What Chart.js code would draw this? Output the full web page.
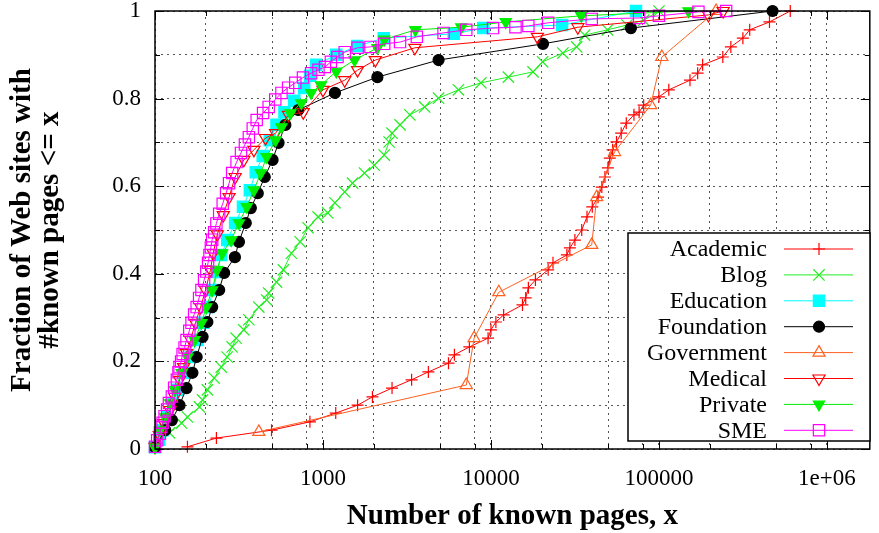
<!DOCTYPE html>
<html>
<head>
<meta charset="utf-8">
<script src="https://cdn.jsdelivr.net/npm/chart.js@4/dist/chart.umd.min.js"></script>
<style>
  html, body { margin: 0; padding: 0; background: #fff; }
  #wrap { width: 879px; height: 533px; position: relative; }
</style>
</head>
<body>
<div id="wrap"><canvas id="cdf"></canvas></div>
<script>
// ── DATA ──────────────────────────────────────────────────────
const academicX = [156,232,494,836,1191,1607,1970,2577,3370,4240,5586,6060,7440,9610,10000,10700,11900,15400,16100,16700,18400,21900,23400,28300,29500,31600,34700,37300,40100,43400,45700,47700,49700,51000,53000,55900,59600,63900,71000,76200,81100,100000,114500,153000,170000,182000,240000,268000,316000,347000,455000,605000];
const academicY = [0.005,0.025,0.043,0.062,0.082,0.1,0.119,0.139,0.158,0.176,0.196,0.215,0.233,0.253,0.272,0.29,0.306,0.329,0.345,0.368,0.386,0.409,0.425,0.443,0.459,0.477,0.5,0.53,0.553,0.575,0.598,0.621,0.642,0.664,0.683,0.701,0.721,0.744,0.763,0.769,0.785,0.804,0.82,0.842,0.858,0.877,0.895,0.918,0.938,0.957,0.975,1.0];

const blogX = [100,122,144,156,184,192,205,225,248,269,288,304,338,362,415,462,475,529,581,648,731,815,935,1068,1178,1347,1500,1766,2020,2315,2476,2577,2876,3290,4030,4877,6400,8710,12700,17800,20300,26800,32400,36100,49400,64500,81100,100000];
const blogY = [0.004,0.037,0.059,0.073,0.096,0.112,0.135,0.162,0.187,0.21,0.233,0.253,0.272,0.295,0.324,0.34,0.356,0.381,0.409,0.447,0.473,0.505,0.53,0.539,0.562,0.587,0.607,0.63,0.648,0.671,0.701,0.721,0.74,0.763,0.781,0.801,0.82,0.836,0.849,0.861,0.884,0.904,0.918,0.945,0.957,0.968,0.979,1.0];

const educationX = [100,106,111,119,128,137,150,163,179,194,208,222,235,248,269,300,334,367,398,438,482,529,590,675,773,838,910,1200,1600,2300,6000,9000,26500,73000];
const educationY = [0.004,0.021,0.043,0.073,0.105,0.135,0.174,0.21,0.249,0.288,0.324,0.363,0.404,0.443,0.477,0.516,0.553,0.591,0.632,0.669,0.705,0.74,0.769,0.795,0.824,0.852,0.877,0.9,0.92,0.938,0.948,0.961,0.968,1.0];

const foundationX = [100,115,126,140,154,167,177,192,205,219,241,258,299,316,347,372,409,450,501,544,597,713,1178,2108,4877,20400,68100,474600];
const foundationY = [0.004,0.043,0.066,0.1,0.139,0.174,0.21,0.256,0.29,0.324,0.363,0.402,0.438,0.473,0.516,0.55,0.584,0.621,0.66,0.699,0.74,0.774,0.813,0.849,0.888,0.925,0.961,1.0];

const governmentX = [415,7130,7940,11140,39800,42600,54400,89300,104000,219000];
const governmentY = [0.039,0.146,0.253,0.358,0.466,0.575,0.678,0.785,0.895,1.0];

const medicalX = [100,106,113,123,131,140,148,154,163,174,187,200,214,222,235,255,276,300,338,388,455,522,623,763,1000,1347,1607,2050,3524,18900,32900,197000,241000];
const medicalY = [0.005,0.032,0.059,0.089,0.119,0.158,0.187,0.219,0.249,0.288,0.324,0.363,0.409,0.447,0.49,0.534,0.575,0.621,0.66,0.683,0.71,0.721,0.763,0.769,0.82,0.842,0.865,0.888,0.916,0.941,0.963,0.991,1.0];

const privateX = [100,107,115,123,131,144,156,172,189,202,219,234,251,284,316,352,388,426,462,522,566,640,743,850,973,1200,1542,2108,2315,3550,6660,12250,34500,150000];
const privateY = [0.004,0.043,0.073,0.105,0.135,0.174,0.21,0.249,0.288,0.324,0.363,0.409,0.447,0.477,0.516,0.553,0.591,0.63,0.667,0.705,0.735,0.767,0.79,0.813,0.831,0.862,0.888,0.916,0.935,0.957,0.963,0.975,0.989,1.0];

const smeX = [100,103,107,109,111,114,118,121,126,130,135,138,140,143,146,150,154,160,165,171,177,183,189,196,202,207,211,215,219,225,232,241,253,265,276,288,306,325,343,362,382,403,440,475,520,566,620,684,760,850,940,1027,1114,1220,1347,1607,1916,2315,2876,3620,5220,7130,10280,14000,16700,21900,39800,76200,100000,171800,251200];
const smeY = [0.005,0.02,0.035,0.05,0.06,0.075,0.09,0.105,0.12,0.14,0.158,0.175,0.187,0.2,0.217,0.232,0.249,0.27,0.288,0.307,0.324,0.345,0.363,0.385,0.405,0.425,0.443,0.46,0.478,0.495,0.515,0.537,0.56,0.584,0.607,0.63,0.655,0.676,0.695,0.712,0.732,0.751,0.767,0.781,0.798,0.813,0.825,0.836,0.848,0.858,0.866,0.872,0.884,0.895,0.906,0.916,0.918,0.925,0.929,0.941,0.95,0.957,0.961,0.963,0.966,0.973,0.982,0.984,0.989,0.998,1.0];

// tick positions (gnuplot puts grid at 2,5,8 x each decade)
const xTickValues = [100,200,500,800,1000,2000,5000,8000,10000,20000,50000,80000,100000,200000,500000,800000,1000000];
const xTickLabels = { 100: '100', 1000: '1000', 10000: '10000', 100000: '100000', 1000000: '1e+06' };
const yTickValues = [0,0.1,0.2,0.3,0.4,0.5,0.6,0.7,0.8,0.9,1];

const X_MIN = 100, X_MAX = 1.8e6;
const SERIF = "'Liberation Serif', 'Times New Roman', serif";

// ── SERIES STYLE ──────────────────────────────────────────────
const SERIES = [
  { label: 'Academic',   xs: academicX,   ys: academicY,   color: '#ff0000', style: 'cross',    r: 6,   rot: 0,   fill: false },
  { label: 'Blog',       xs: blogX,       ys: blogY,       color: '#22ee22', style: 'crossRot', r: 8,   rot: 0,   fill: false },
  { label: 'Education',  xs: educationX,  ys: educationY,  color: '#00ffff', style: 'rect',     r: 8,   rot: 0,   fill: true  },
  { label: 'Foundation', xs: foundationX, ys: foundationY, color: '#000000', style: 'circle',   r: 5.5, rot: 0,   fill: true  },
  { label: 'Government', xs: governmentX, ys: governmentY, color: '#ff6020', style: 'triangle', r: 7,   rot: 0,   fill: false },
  { label: 'Medical',    xs: medicalX,    ys: medicalY,    color: '#ff0000', style: 'triangle', r: 7,   rot: 180, fill: false },
  { label: 'Private',    xs: privateX,    ys: privateY,    color: '#00ee00', style: 'triangle', r: 6.5, rot: 180, fill: true  },
  { label: 'SME',        xs: smeX,        ys: smeY,        color: '#ff00ff', style: 'rect',     r: 8,   rot: 0,   fill: false }
];

const datasets = SERIES.map((s, i) => ({
  label: s.label,
  data: s.xs.map((x, k) => ({ x, y: s.ys[k] })),
  borderColor: s.color,
  backgroundColor: s.fill ? s.color : 'rgba(0,0,0,0)',
  borderWidth: 1,
  pointStyle: s.style,
  pointRadius: s.r,
  pointRotation: s.rot,
  pointBorderWidth: 1.2,
  pointBorderColor: s.color,
  pointBackgroundColor: s.fill ? s.color : 'rgba(0,0,0,0)',
  tension: 0,
  clip: false,
  order: SERIES.length - i   // later series drawn on top, like gnuplot
}));

// ── FRAME, INWARD TICKS AND GNUPLOT-STYLE KEY ─────────────────
const framePlugin = {
  id: 'frame',
  afterDatasetsDraw(chart) {
    const { ctx, chartArea: a, scales: { x, y } } = chart;
    ctx.save();
    ctx.strokeStyle = '#000';
    ctx.lineWidth = 1;
    ctx.beginPath();
    xTickValues.forEach(v => {
      const px = Math.round(x.getPixelForValue(v)) + 0.5;
      const len = xTickLabels[v] ? 9 : 5;
      ctx.moveTo(px, a.bottom); ctx.lineTo(px, a.bottom - len);
      ctx.moveTo(px, a.top);    ctx.lineTo(px, a.top + len);
    });
    yTickValues.forEach((v, i) => {
      const py = Math.round(y.getPixelForValue(v)) + 0.5;
      const len = i % 2 === 0 ? 9 : 5;
      ctx.moveTo(a.left, py);  ctx.lineTo(a.left + len, py);
      ctx.moveTo(a.right, py); ctx.lineTo(a.right - len, py);
    });
    ctx.stroke();

    ctx.lineWidth = 1.5;
    ctx.strokeRect(a.left, a.top, a.right - a.left, a.bottom - a.top);

    // key box
    const bx = 628, by = 233, bw = 242, bh = 208;
    ctx.fillStyle = '#fff';
    ctx.fillRect(bx, by, bw, bh);
    ctx.strokeRect(bx, by, bw, bh);
    ctx.font = '24px ' + SERIF;
    ctx.textAlign = 'right';
    ctx.textBaseline = 'middle';
    SERIES.forEach((s, i) => {
      const cy = by + 16 + i * 25.9;
      ctx.fillStyle = '#000';
      ctx.fillText(s.label, 767, cy + 1);
      ctx.strokeStyle = s.color;
      ctx.lineWidth = 1;
      ctx.beginPath();
      ctx.moveTo(784, cy); ctx.lineTo(853, cy);
      ctx.stroke();
      ctx.fillStyle = s.fill ? s.color : 'rgba(0,0,0,0)';
      ctx.lineWidth = 1.2;
      Chart.helpers.drawPoint(ctx, { pointStyle: s.style, radius: s.r, rotation: s.rot, borderWidth: 1.2 }, 819, cy);
    });
    ctx.restore();
  }
};

// ── CHART ─────────────────────────────────────────────────────
new Chart(document.getElementById('cdf'), {
  type: 'line',
  data: { datasets },
  options: {
    responsive: true,
    maintainAspectRatio: false,
    animation: false,
    layout: { padding: { top: 11, right: 1, left: 0, bottom: 0 } },
    plugins: { legend: { display: false }, tooltip: { enabled: false } },
    scales: {
      x: {
        type: 'logarithmic',
        min: X_MIN,
        max: X_MAX,
        afterBuildTicks: scale => { scale.ticks = xTickValues.map(v => ({ value: v })); },
        afterFit: scale => {
          scale.height = 84;
          scale.paddingLeft = 0;
          scale.paddingRight = 0;
        },
        ticks: {
          autoSkip: false,
          maxRotation: 0,
          padding: 16,
          color: '#000',
          font: { family: SERIF, size: 23 },
          callback: v => xTickLabels[v] || ''
        },
        grid: { color: '#555', lineWidth: 1, drawTicks: false },
        border: { display: false, dash: [2, 4] },
        title: {
          display: true,
          text: 'Number of known pages, x',
          color: '#000',
          font: { family: SERIF, size: 29, weight: 'bold', lineHeight: 1.0 },
          padding: { top: 0, bottom: 2 }
        }
      },
      y: {
        min: 0,
        max: 1,
        afterBuildTicks: scale => { scale.ticks = yTickValues.map(v => ({ value: v })); },
        afterFit: scale => {
          scale.width = 155;
          scale.paddingTop = 0;
          scale.paddingBottom = 0;
        },
        ticks: {
          padding: 14,
          color: '#000',
          font: { family: SERIF, size: 23 },
          callback: v => (Math.round(v * 10) % 2 === 0 ? String(Math.round(v * 10) / 10) : '')
        },
        grid: { color: '#555', lineWidth: 1, drawTicks: false },
        border: { display: false, dash: [2, 4] },
        title: {
          display: true,
          text: ['Fraction of Web sites with', '#known pages <= x'],
          color: '#000',
          font: { family: SERIF, size: 29, weight: 'bold', lineHeight: 0.97 },
          padding: { top: 8, bottom: 0 }
        }
      }
    }
  },
  plugins: [framePlugin]
});
</script>
</body>
</html>
